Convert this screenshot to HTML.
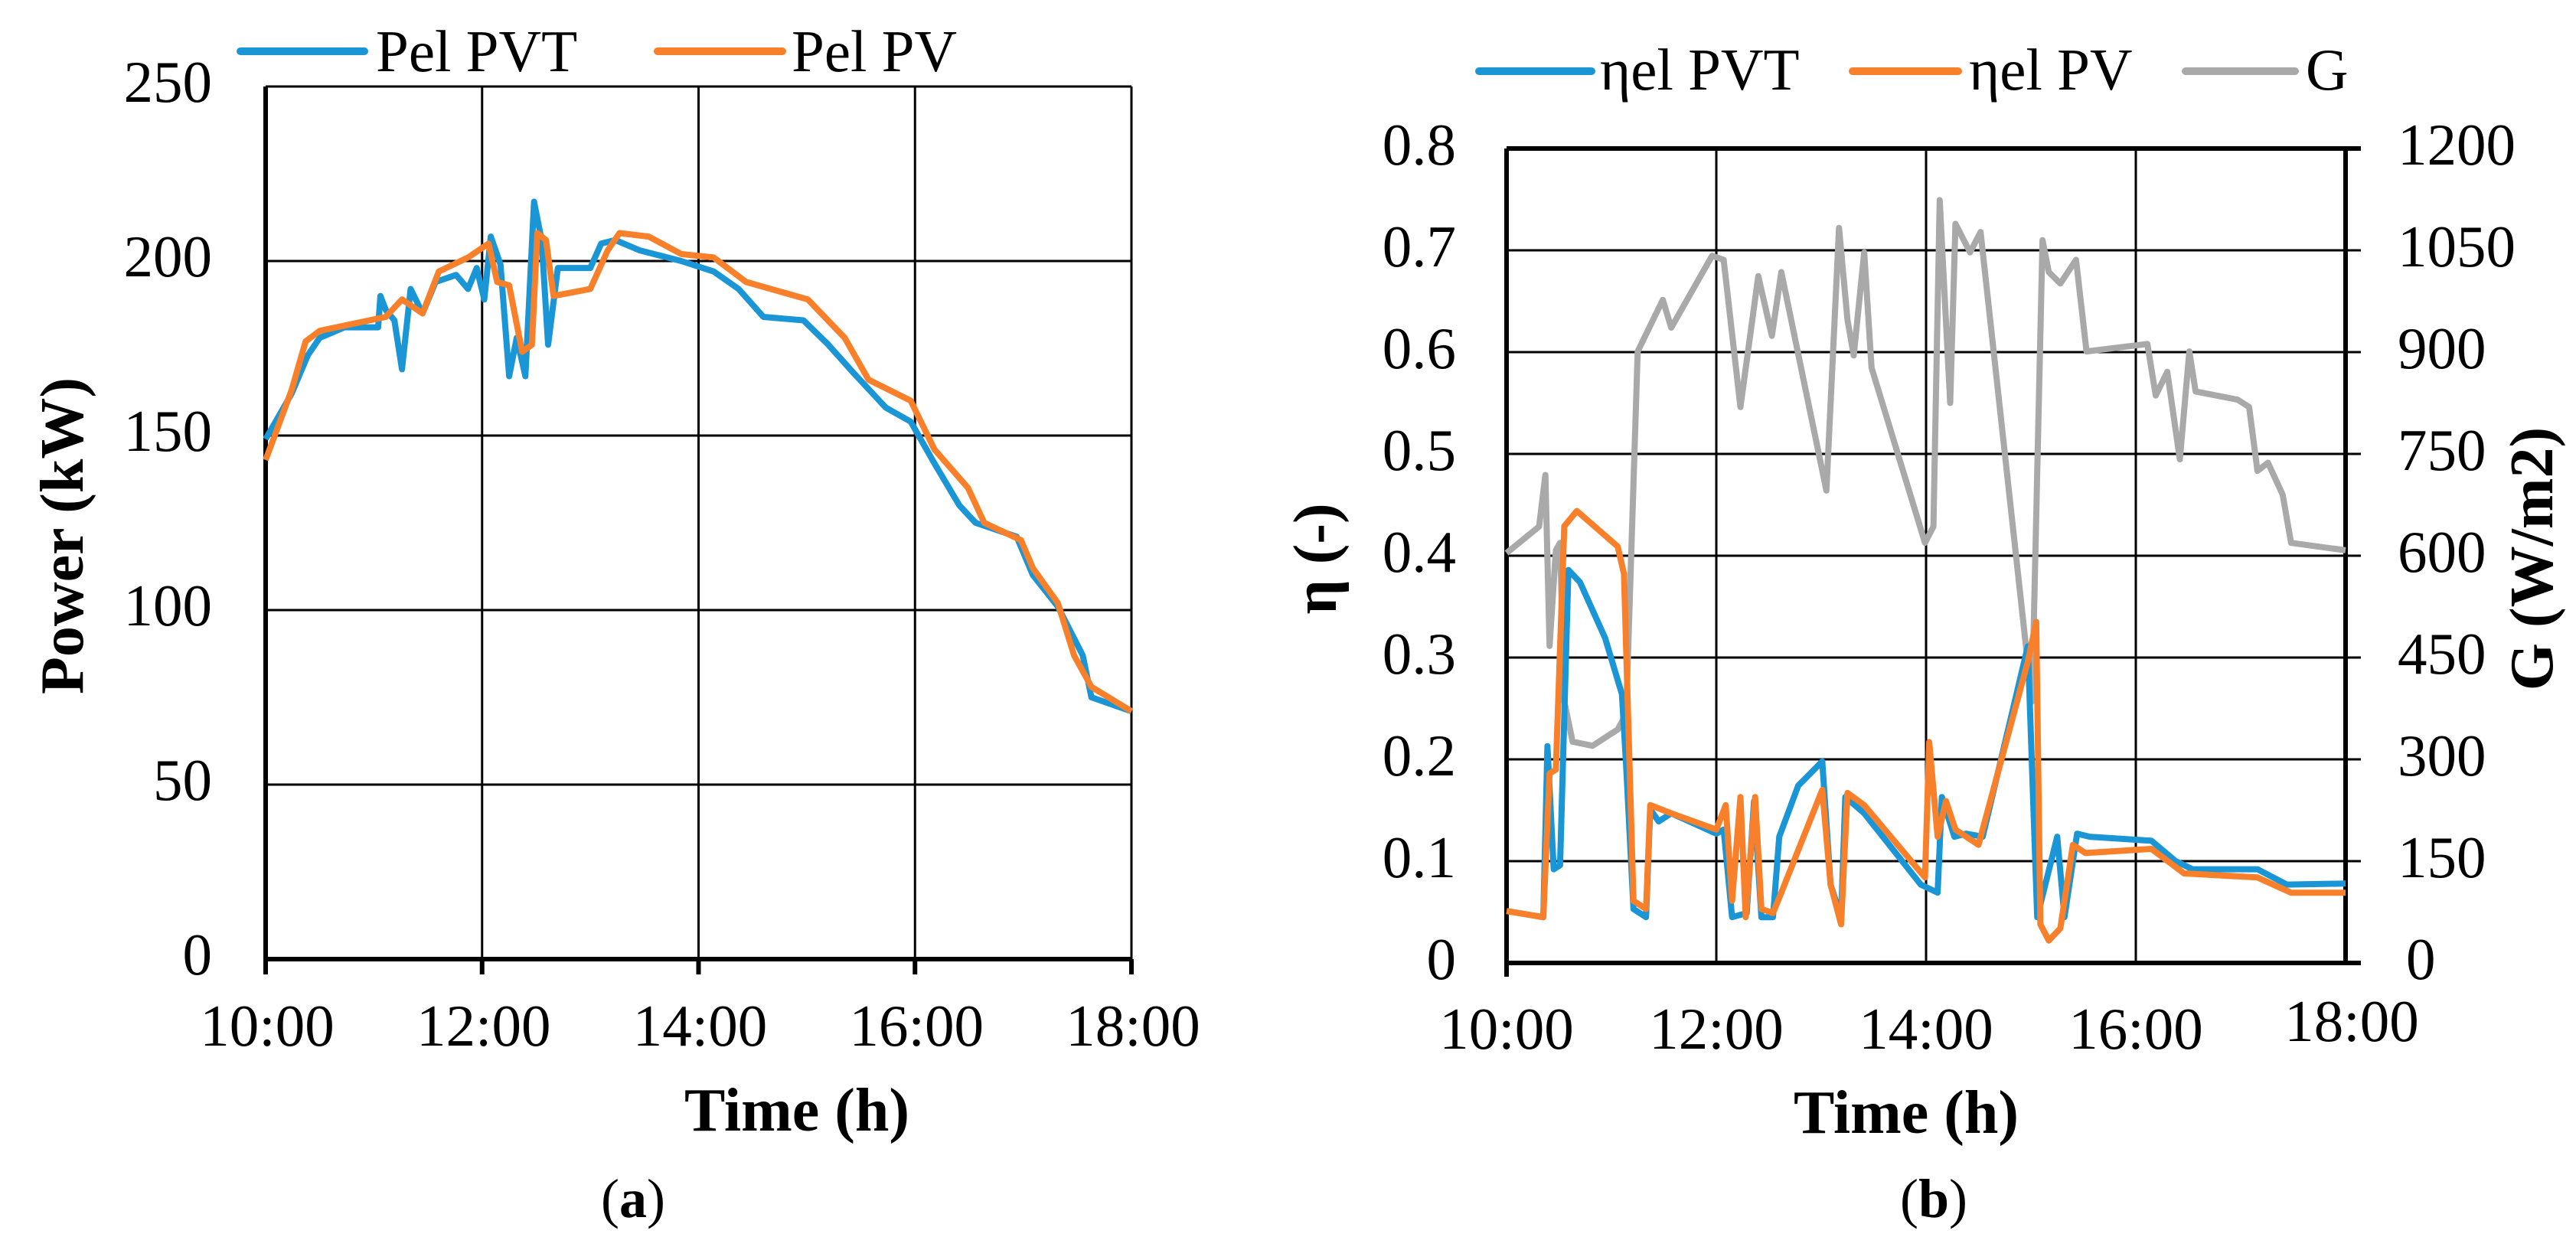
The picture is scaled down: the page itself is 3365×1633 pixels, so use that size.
<!DOCTYPE html>
<html><head><meta charset="utf-8"><style>
html,body{margin:0;padding:0;background:#fff;}
svg{display:block;}
text{font-family:"Liberation Serif","Times New Roman",Times,"DejaVu Serif",serif;}
</style></head><body>
<svg id="fig" width="3365" height="1633" viewBox="0 0 3365 1633" xmlns="http://www.w3.org/2000/svg">
<rect x="0" y="0" width="3365" height="1633" fill="#fff"/>
<g id="chartA"></g>
<g id="chartB"></g>
</svg>
<script>
// ---- Chart (a) data ----
const aXTicks = ["10:00","12:00","14:00","16:00","18:00"];
const aXTickVals = [10,12,14,16,18];
const aYTicks = [0,50,100,150,200,250];
const pvtHours = [10,10.24,10.39,10.5,10.73,11.04,11.06,11.11,11.19,11.26,11.34,11.45,11.57,11.76,11.87,11.95,12.02,12.08,12.17,12.25,12.32,12.4,12.48,12.55,12.61,12.7,13.0,13.1,13.23,13.46,13.84,14.14,14.37,14.6,14.97,15.2,15.43,15.73,15.96,16.18,16.41,16.56,16.94,17.09,17.32,17.55,17.63,18];
const pvtPower = [149,162,173,178,181,181,190,186,183,169,192,185,194,196,192,198,189,207,199,167,178,167,217,206,176,198,198,205,206,203,200,197,192,184,183,176,168,158,154,142,130,125,121,110,101,87,75,71];
const pvHours = [10,10.24,10.37,10.5,11.11,11.26,11.45,11.6,11.87,12.06,12.14,12.25,12.37,12.46,12.51,12.59,12.66,13.0,13.16,13.27,13.54,13.84,14.14,14.44,15.01,15.35,15.57,15.96,16.18,16.49,16.64,16.98,17.09,17.32,17.47,17.63,18];
const pvPower = [143,163,177,180,184,189,185,197,201,205,194,193,174,176,208,206,190,192,203,208,207,202,201,194,189,178,166,160,146,135,125,120,112,102,87,78,71];

// ---- Chart (b) data ----
const bXTicks = ["10:00","12:00","14:00","16:00","18:00"];
const bXTickVals = [10,12,14,16,18];
const bYTicks = [0,0.1,0.2,0.3,0.4,0.5,0.6,0.7,0.8];
const bY2Ticks = [0,150,300,450,600,750,900,1050,1200];
const gHours = [10,10.31,10.37,10.41,10.47,10.51,10.55,10.63,10.82,11.06,11.14,11.25,11.49,11.57,11.96,12.07,12.23,12.4,12.53,12.62,13.05,13.17,13.25,13.31,13.41,13.48,13.99,14.07,14.13,14.23,14.28,14.42,14.52,15.01,15.11,15.17,15.28,15.43,15.53,16.11,16.19,16.3,16.42,16.51,16.57,16.97,17.08,17.16,17.26,17.4,17.48,18];
const gValues = [604,643,719,467,608,619,385,326,320,344,367,901,977,936,1042,1036,819,1012,924,1018,696,1083,948,895,1047,877,619,643,1124,825,1089,1047,1077,385,1065,1018,1001,1036,901,912,836,871,742,901,842,830,819,725,737,690,619,608];
const etaPvtHours = [10,10.35,10.39,10.45,10.51,10.59,10.7,10.94,11.1,11.14,11.21,11.33,11.37,11.45,11.57,12.0,12.07,12.15,12.29,12.36,12.43,12.54,12.6,12.78,13.01,13.09,13.19,13.23,13.41,13.95,14.11,14.15,14.27,14.38,14.54,14.97,15.06,15.25,15.32,15.44,15.56,16.15,16.38,16.54,17.16,17.44,18];
const etaPvt = [0.051,0.045,0.213,0.092,0.096,0.386,0.374,0.319,0.264,0.194,0.053,0.045,0.151,0.139,0.147,0.127,0.131,0.045,0.049,0.159,0.045,0.045,0.124,0.174,0.198,0.077,0.045,0.163,0.147,0.077,0.069,0.163,0.124,0.127,0.124,0.311,0.045,0.124,0.045,0.127,0.124,0.12,0.1,0.092,0.092,0.077,0.078];
const etaPvHours = [10,10.35,10.41,10.47,10.55,10.67,11.06,11.12,11.21,11.33,11.37,11.57,12.0,12.09,12.15,12.23,12.28,12.37,12.43,12.54,12.62,13.01,13.09,13.19,13.25,13.41,13.99,14.03,14.11,14.19,14.28,14.5,14.97,15.05,15.09,15.17,15.28,15.4,15.52,16.15,16.46,17.16,17.48,18];
const etaPv = [0.051,0.045,0.186,0.19,0.429,0.444,0.409,0.382,0.061,0.053,0.155,0.147,0.131,0.155,0.061,0.163,0.045,0.163,0.053,0.049,0.069,0.17,0.077,0.038,0.167,0.155,0.084,0.217,0.124,0.159,0.131,0.116,0.296,0.335,0.038,0.022,0.034,0.116,0.108,0.112,0.088,0.084,0.069,0.069];

const NS = "http://www.w3.org/2000/svg";
const BLUE = "#1a95d5", ORANGE = "#f8802a", GRAY = "#a9a9a9";
function mk(parent, tag, attrs, text){
  const e = document.createElementNS(NS, tag);
  for (const k in attrs) e.setAttribute(k, attrs[k]);
  if (text !== undefined) e.textContent = text;
  parent.appendChild(e);
  return e;
}
function pathFrom(xs, ys, fx, fy){
  let d = "";
  for (let i = 0; i < xs.length; i++) d += (i ? "L" : "M") + fx(xs[i]).toFixed(1) + "," + fy(ys[i]).toFixed(1);
  return d;
}

// ===== Chart (a) =====
(function(){
  const g = document.getElementById("chartA");
  const L = 347, R = 1478, T = 113, B = 1253;
  const fx = h => L + (h - 10) / 8 * (R - L);
  const fy = v => B - v / 250 * (B - T);
  aYTicks.forEach(v => {
    if (v === 0) return;
    const ln = mk(g, "line", {x1: L, x2: R, y1: fy(v), y2: fy(v), stroke: "#000", "stroke-width": 3});
    
    
  });
  aXTickVals.forEach(h => {
    if (h === 10) return;
    const ln = mk(g, "line", {x1: fx(h), x2: fx(h), y1: T, y2: B + 20, stroke: "#000", "stroke-width": 3});
    
    
  });
  const ax = mk(g, "path", {d: `M${L},${T}L${L},${B + 20}M${L - 3},${B}L${R},${B}M${fx(12)},${B}L${fx(12)},${B+20}M${fx(14)},${B}L${fx(14)},${B+20}M${fx(16)},${B}L${fx(16)},${B+20}M${R},${B}L${R},${B+20}`, stroke: "#000", "stroke-width": 6, fill: "none"});
  
  
  aYTicks.forEach(v => {
    const t = mk(g, "text", {x: 277, y: fy(v) + 20, "text-anchor": "end", "font-size": 77}, String(v));
    
    
  });
  aXTickVals.forEach((h, i) => {
    const t = mk(g, "text", {x: fx(h) + 2, y: 1366, "text-anchor": "middle", "font-size": 77}, aXTicks[i]);
    
    
  });
  const s1 = mk(g, "path", {d: pathFrom(pvtHours, pvtPower, fx, fy), stroke: BLUE, "stroke-width": 8, fill: "none", "stroke-linejoin": "round"});
  
  
  const s2 = mk(g, "path", {d: pathFrom(pvHours, pvPower, fx, fy), stroke: ORANGE, "stroke-width": 8, fill: "none", "stroke-linejoin": "round"});
  
  
  const l1 = mk(g, "line", {x1: 314, x2: 476, y1: 67, y2: 67, stroke: BLUE, "stroke-width": 10, "stroke-linecap": "round"});
  
  
  const lt1 = mk(g, "text", {x: 491, y: 93, "font-size": 77}, "Pel PVT");
  
  
  const l2 = mk(g, "line", {x1: 859, x2: 1022, y1: 67, y2: 67, stroke: ORANGE, "stroke-width": 10, "stroke-linecap": "round"});
  
  
  const lt2 = mk(g, "text", {x: 1034, y: 93, "font-size": 77}, "Pel PV");
  
  
  const yt = mk(g, "text", {x: 0, y: 0, "text-anchor": "middle", "font-size": 80, "font-weight": "bold", transform: "translate(108,700) rotate(-90)"}, "Power (kW)");
  
  
  const xt = mk(g, "text", {x: 1041, y: 1477, "text-anchor": "middle", "font-size": 80, "font-weight": "bold"}, "Time (h)");
  
  
  const cap = mk(g, "text", {x: 827, y: 1590, "text-anchor": "middle", "font-size": 72}, "");
  
  
  mk(cap, "tspan", {}, "(");
  mk(cap, "tspan", {"font-weight": "bold"}, "a");
  mk(cap, "tspan", {}, ")");
})();

// ===== Chart (b) =====
(function(){
  const g = document.getElementById("chartB");
  const L = 1968, R = 3064, T = 194, B = 1258;
  const fx = h => L + (h - 10) / 8 * (R - L);
  const fy = v => B - v / 0.8 * (B - T);
  const fy2 = v => B - v / 1200 * (B - T);
  bYTicks.forEach(v => {
    if (v === 0) return;
    const ln = mk(g, "line", {x1: L, x2: R + 20, y1: fy(v), y2: fy(v), stroke: "#000", "stroke-width": 3});
    
    
  });
  bXTickVals.forEach(h => {
    if (h === 10 || h === 18) return;
    const ln = mk(g, "line", {x1: fx(h), x2: fx(h), y1: T, y2: B, stroke: "#000", "stroke-width": 3});
    
    
  });
  const ax = mk(g, "path", {d: `M${L},${T}L${L},${B + 18}M${L - 3},${B}L${R + 20},${B}M${R},${T}L${R},${B}M${L},${T}L${R + 20},${T}`, stroke: "#000", "stroke-width": 6, fill: "none"});
  
  
  bYTicks.forEach(v => {
    const t = mk(g, "text", {x: 1902, y: fy(v) + 21, "text-anchor": "end", "font-size": 77}, v === 0 ? "0" : v.toFixed(1));
    
    
  });
  bY2Ticks.forEach(v => {
    const t = mk(g, "text", {x: v === 0 ? 3143 : 3132, y: fy2(v) + 21, "text-anchor": "start", "font-size": 77}, String(v));
    
    
  });
  bXTickVals.forEach((h, i) => {
    const t = mk(g, "text", {x: fx(h) + (h === 18 ? 8 : 0), y: h === 18 ? 1360 : 1370, "text-anchor": "middle", "font-size": 77}, bXTicks[i]);
    
    
  });
  const sg = mk(g, "path", {d: pathFrom(gHours, gValues, fx, fy2), stroke: GRAY, "stroke-width": 8, fill: "none", "stroke-linejoin": "round"});
  
  
  const s1 = mk(g, "path", {d: pathFrom(etaPvtHours, etaPvt, fx, fy), stroke: BLUE, "stroke-width": 8, fill: "none", "stroke-linejoin": "round"});
  
  
  const s2 = mk(g, "path", {d: pathFrom(etaPvHours, etaPv, fx, fy), stroke: ORANGE, "stroke-width": 8, fill: "none", "stroke-linejoin": "round"});
  
  
  const l1 = mk(g, "line", {x1: 1932, x2: 2079, y1: 93, y2: 93, stroke: BLUE, "stroke-width": 10, "stroke-linecap": "round"});
  
  
  const t1 = mk(g, "text", {x: 2090, y: 117, "font-size": 77}, "ηel PVT");
  
  
  const l2 = mk(g, "line", {x1: 2420, x2: 2558, y1: 93, y2: 93, stroke: ORANGE, "stroke-width": 10, "stroke-linecap": "round"});
  
  
  const t2 = mk(g, "text", {x: 2572, y: 117, "font-size": 77}, "ηel PV");
  
  
  const l3 = mk(g, "line", {x1: 2855, x2: 2998, y1: 93, y2: 93, stroke: GRAY, "stroke-width": 10, "stroke-linecap": "round"});
  
  
  const t3 = mk(g, "text", {x: 3012, y: 117, "font-size": 77}, "G");
  
  
  const yt = mk(g, "text", {x: 0, y: 0, "text-anchor": "middle", "font-size": 80, "font-weight": "bold", transform: "translate(1745,730) rotate(-90)"}, "η (-)");
  
  
  const yt2 = mk(g, "text", {x: 0, y: 0, "text-anchor": "middle", "font-size": 80, "font-weight": "bold", transform: "translate(3334,730) rotate(-90)"}, "G (W/m2)");
  
  
  const xt = mk(g, "text", {x: 2490, y: 1480, "text-anchor": "middle", "font-size": 80, "font-weight": "bold"}, "Time (h)");
  
  
  const cap = mk(g, "text", {x: 2526, y: 1590, "text-anchor": "middle", "font-size": 72}, "");
  
  
  mk(cap, "tspan", {}, "(");
  mk(cap, "tspan", {"font-weight": "bold"}, "b");
  mk(cap, "tspan", {}, ")");
})();
</script>
</body></html>
